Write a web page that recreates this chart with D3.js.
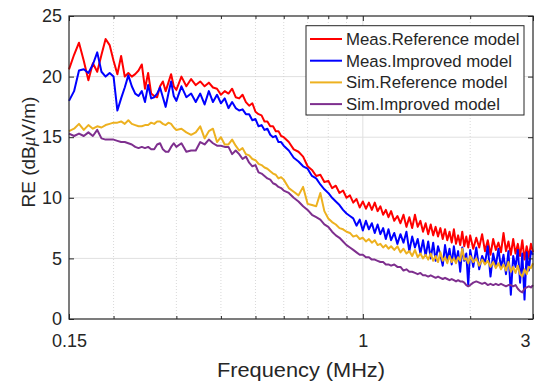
<!DOCTYPE html>
<html>
<head>
<meta charset="utf-8">
<script src="https://cdn.jsdelivr.net/npm/d3@7"></script>
<style>
body { margin: 0; background: #fff; }
text { font-family: "Liberation Sans", Arial, Helvetica, sans-serif; fill: #262626; }
</style>
</head>
<body>
<div id="chart-area"></div>
<script>
/*
*    RE vs frequency, measured and simulated
*/

// frequency points (MHz)
var freqs = [
    0.150, 0.155, 0.160, 0.165, 0.170, 0.175, 0.180, 0.185, 0.190, 0.195, 0.200,
    0.205, 0.210, 0.215, 0.220, 0.225, 0.230, 0.235, 0.240, 0.245, 0.250,
    0.255, 0.260, 0.265, 0.270, 0.275, 0.280, 0.285, 0.290, 0.295, 0.300,
    0.31, 0.32, 0.33, 0.34, 0.35, 0.36, 0.37, 0.38, 0.39, 0.40,
    0.41, 0.42, 0.43, 0.44, 0.45, 0.46, 0.47, 0.48, 0.49, 0.50,
    0.51, 0.52, 0.53, 0.54, 0.55, 0.56, 0.57, 0.58, 0.59, 0.60,
    0.62, 0.64, 0.66, 0.68, 0.70, 0.72, 0.74, 0.76, 0.78, 0.80,
    0.82, 0.84, 0.86, 0.88, 0.90, 0.92, 0.94, 0.96, 0.98, 1.00,
    1.02, 1.04, 1.06, 1.08, 1.10, 1.12, 1.14, 1.16, 1.18, 1.20,
    1.225, 1.25, 1.275, 1.3, 1.325, 1.35, 1.375, 1.4, 1.425, 1.45, 1.475, 1.5,
    1.525, 1.55, 1.575, 1.6, 1.625, 1.65, 1.675, 1.7, 1.725, 1.75, 1.775, 1.8,
    1.825, 1.85, 1.875, 1.9, 1.925, 1.95, 1.975, 2.0,
    2.04, 2.08, 2.12, 2.16, 2.2, 2.24, 2.28, 2.32, 2.36, 2.4, 2.44, 2.48,
    2.52, 2.56, 2.6, 2.64, 2.68, 2.72, 2.76, 2.8, 2.84, 2.88, 2.92, 2.96, 3.0
];

// Meas.Reference model (dBuV/m)
var measRef = [
    20.6, 21.8, 22.8, 21.3, 19.7, 21.1, 20.4, 21.8, 23.1, 22.6, 21.3,
    20.2, 21.7, 20.0, 20.3, 20.0, 20.2, 20.5, 21.0, 19.0, 20.3,
    18.6, 18.4, 18.3, 19.2, 19.6, 18.8, 19.5, 20.2, 19.2, 18.9,
    20.0, 19.2, 19.8, 19.3, 19.6, 19.2, 19.5, 19.1, 19.0, 18.5,
    18.8, 18.6, 19.0, 18.3, 18.2, 18.5, 17.9, 17.6, 17.8, 17.1,
    16.9, 16.8, 16.3, 16.3, 15.9, 15.9, 15.5, 15.5, 15.1, 15.0,
    14.6, 14.0, 13.8, 13.4, 12.6, 12.3, 11.8, 11.9, 11.3, 11.4,
    10.8, 11.0, 10.4, 10.6, 10.0, 10.2, 9.6, 9.9, 9.2, 9.7,
    9.1, 9.6, 9.0, 9.6, 8.9, 9.3, 8.6, 9.0, 8.4, 8.9,
    8.1, 8.5, 7.9, 8.6, 7.6, 8.4, 7.5, 8.6, 7.6, 8.1, 7.2, 7.9,
    7.0, 7.8, 6.9, 7.6, 6.8, 7.5, 6.6, 7.4, 6.5, 7.2, 6.3, 7.4,
    6.2, 6.9, 6.1, 7.2, 6.0, 6.8, 5.9, 6.9,
    5.8, 6.7, 5.9, 7.0, 5.6, 6.5, 5.3, 6.6, 5.7, 6.3, 5.5, 7.1,
    5.6, 6.4, 5.3, 6.6, 5.4, 6.2, 5.2, 6.5, 4.9, 6.0, 5.1, 6.2, 5.5
];

// Meas.Improved model
var measImp = [
    18.0, 18.8, 20.5, 20.6, 20.3, 21.0, 22.0, 20.4, 20.0, 20.3, 20.0,
    17.2, 18.2, 19.1, 20.1, 19.2, 18.6, 18.4, 18.8, 17.9, 19.3,
    18.2, 18.3, 18.6, 19.1, 18.3, 17.5, 18.6, 19.6, 18.4, 18.0,
    19.2, 18.3, 18.6, 17.9, 18.6, 17.7, 18.8, 17.9, 18.5, 17.8,
    18.2, 17.4, 17.9, 17.4, 17.2, 17.3, 16.9, 16.9, 16.4, 16.5,
    15.9, 16.0, 15.6, 15.7, 15.2, 15.0, 15.1, 14.6, 14.6, 14.3,
    13.9, 13.3, 13.0, 12.6, 12.4, 11.8, 11.6, 11.1, 10.7, 10.4,
    10.0, 9.7, 9.4, 9.0, 8.7, 8.5, 8.3, 7.7, 8.2, 7.3,
    8.1, 7.4, 7.9, 7.1, 7.8, 7.0, 7.5, 6.6, 7.4, 6.5,
    7.1, 6.2, 7.0, 6.3, 7.2, 5.6, 6.8, 5.9, 6.6, 5.4, 6.5, 5.2,
    6.4, 5.0, 6.3, 4.8, 6.0, 5.3, 4.4, 6.1, 4.9, 5.8, 4.5, 6.0,
    4.7, 5.6, 3.9, 5.9, 4.8, 5.4, 2.8, 5.7,
    4.3, 5.9, 4.1, 5.2, 4.6, 6.0, 3.5, 5.4, 4.4, 5.8, 4.2, 5.3,
    3.7, 5.6, 2.0, 5.2, 4.3, 5.7, 3.0, 5.4, 1.6, 5.5, 4.0, 5.6, 5.3
];

// Sim.Reference model
var simRef = [
    15.5, 15.7, 16.1, 15.6, 16.0, 15.7, 15.9, 15.8, 16.0, 16.1, 16.2,
    16.2, 16.3, 16.1, 16.4, 16.1, 16.0, 15.9, 15.9, 16.0, 16.0,
    16.2, 16.1, 16.3, 16.3, 16.1, 16.0, 16.2, 16.1, 15.8, 15.6,
    15.7, 15.4, 15.2, 15.4, 15.9, 14.9, 15.5, 15.7, 14.6, 15.0,
    14.4, 14.4, 14.8, 14.3, 13.9, 14.1, 13.6, 13.5, 13.2, 13.1,
    12.8, 12.7, 12.5, 12.4, 12.2, 12.0, 11.9, 11.6, 11.7, 11.5,
    10.8, 10.5, 10.2, 10.9, 9.5, 9.4, 9.3, 10.4, 8.9, 8.3,
    8.0, 7.8, 7.5, 7.4, 7.2, 7.1, 6.8, 6.9, 6.6, 6.7,
    6.4, 6.6, 6.3, 6.5, 6.1, 6.2, 5.9, 6.1, 5.8, 6.0,
    5.7, 6.0, 5.5, 5.8, 5.4, 5.6, 5.2, 5.7, 5.1, 5.4, 5.0, 5.3,
    4.9, 5.4, 4.8, 5.2, 4.7, 5.5, 4.8, 5.1, 4.6, 5.2, 4.7, 5.0,
    4.6, 5.1, 4.8, 5.8, 4.9, 5.0, 4.6, 5.2,
    4.7, 5.0, 4.4, 4.9, 4.5, 4.8, 4.3, 4.7, 4.2, 4.6, 4.1, 4.5,
    4.0, 4.7, 3.9, 4.3, 3.8, 4.4, 3.7, 3.5, 4.1, 3.7, 4.3, 4.2, 4.6
];

// Sim.Improved model
var simImp = [
    15.3, 15.1, 15.3, 15.1, 15.4, 15.1, 15.6, 14.9, 14.8, 14.8, 14.8,
    14.7, 14.6, 14.6, 14.5, 14.4, 14.2, 14.1, 14.2, 14.1, 14.2,
    14.0, 14.0, 14.4, 14.5, 14.0, 13.8, 13.8, 14.2, 14.5, 14.2,
    14.5, 13.8, 13.9, 13.9, 14.6, 14.4, 14.8, 14.5, 14.3, 14.3,
    14.2, 14.2, 13.6, 13.9, 13.6, 13.2, 13.4, 12.9, 12.6, 12.7,
    12.1, 12.0, 11.8, 11.6, 11.5, 11.2, 11.1, 10.9, 10.8, 10.6,
    10.4, 10.0, 9.7, 9.3, 9.0, 8.6, 8.4, 8.2, 7.8, 7.6,
    7.2, 6.9, 6.7, 6.4, 6.1, 5.9, 5.7, 5.5, 5.3, 5.3,
    5.1, 5.1, 4.9, 4.9, 4.8, 4.7, 4.7, 4.5, 4.5, 4.4,
    4.5, 4.3, 4.3, 4.0, 4.1, 3.9, 3.9, 3.8, 3.7, 3.8, 3.6, 3.6,
    3.5, 3.6, 3.5, 3.4, 3.5, 3.4, 3.3, 3.4, 3.3, 3.2, 3.3, 3.2,
    3.1, 3.2, 3.1, 3.1, 3.0, 2.8, 2.7, 2.8,
    3.0, 3.1, 3.0, 2.9, 3.0, 2.8, 2.9, 2.8, 2.9, 2.8, 2.9, 2.8,
    2.7, 2.8, 2.8, 2.7, 2.8, 2.5, 2.3, 2.2, 2.5, 2.6, 2.7, 2.6, 2.8
];

var seriesNames = ["Meas.Reference model", "Meas.Improved model", "Sim.Reference model", "Sim.Improved model"];
var seriesColors = ["#ff0000", "#0000ff", "#edb120", "#7e2f8e"];
var seriesValues = [measRef, measImp, simRef, simImp];

var xTicks = [0.15, 1, 3];
var xTickLabels = ["0.15", "1", "3"];
var xMinorTicks = [0.2, 0.3, 0.4, 0.5, 0.6, 0.7, 0.8, 0.9, 2];
var yTicks = [0, 5, 10, 15, 20, 25];

var margin = {top: 16, right: 3, bottom: 62, left: 69};
var width = 464;
var height = 303;
var axisColor = "#262626";

var svg = d3.select('#chart-area')
    .append('svg')
        .attr('width', width + margin.left + margin.right)
        .attr('height', height + margin.top + margin.bottom);

var g = svg.append("g")
    .attr("transform", "translate(" + margin.left + ", " + margin.top + ")");

var x = d3.scaleLog()
    .domain([0.15, 3])
    .range([0, width]);

var y = d3.scaleLinear()
    .domain([0, 25])
    .range([height, 0]);

// grid
g.selectAll(".ygrid").data(yTicks.slice(1, -1)).enter()
    .append("line")
    .attr("x1", 0).attr("x2", width)
    .attr("y1", (d) => y(d)).attr("y2", (d) => y(d))
    .attr("stroke", "#e0e0e0")
    .attr("stroke-width", 1);

g.selectAll(".xminor").data(xMinorTicks).enter()
    .append("line")
    .attr("x1", (d) => x(d)).attr("x2", (d) => x(d))
    .attr("y1", 0).attr("y2", height)
    .attr("stroke", "#cfcfcf")
    .attr("stroke-width", 0.8)
    .attr("stroke-dasharray", "1,2");

g.append("line")
    .attr("x1", x(1)).attr("x2", x(1))
    .attr("y1", 0).attr("y2", height)
    .attr("stroke", "#e0e0e0")
    .attr("stroke-width", 1);

// series
var line = d3.line()
    .x((d, i) => x(freqs[i]))
    .y((d) => y(d));

seriesValues.forEach((vals, k) => {
    g.append("path")
        .datum(vals)
        .attr("d", line)
        .attr("fill", "none")
        .attr("stroke", seriesColors[k])
        .attr("stroke-width", 2)
        .attr("stroke-linejoin", "round");
});

// axes
var bottomAxis = d3.axisBottom(x)
    .tickValues(xTicks)
    .tickFormat((d, i) => xTickLabels[i])
    .tickSizeInner(-5)
    .tickSizeOuter(0)
    .tickPadding(15);

var bottomG = g.append("g")
    .attr("class", "bottom axis")
    .attr("transform", "translate(0, " + height + ")")
    .call(bottomAxis);

// last label sits inside the plot edge, as in the original
bottomG.selectAll(".tick text")
    .filter((d) => d === 3)
    .attr("x", -8);

g.append("g")
    .attr("transform", "translate(0, " + height + ")")
    .call(d3.axisBottom(x).tickValues(xMinorTicks).tickFormat("").tickSizeInner(-3).tickSizeOuter(0));

g.append("g")
    .call(d3.axisTop(x).tickValues(xTicks).tickFormat("").tickSizeInner(-5).tickSizeOuter(0));

g.append("g")
    .call(d3.axisTop(x).tickValues(xMinorTicks).tickFormat("").tickSizeInner(-3).tickSizeOuter(0));

var leftAxis = d3.axisLeft(y)
    .tickValues(yTicks)
    .tickSizeInner(-5)
    .tickSizeOuter(0)
    .tickPadding(7);

g.append("g")
    .attr("class", "left axis")
    .call(leftAxis);

g.append("g")
    .attr("transform", "translate(" + width + ", 0)")
    .call(d3.axisRight(y).tickValues(yTicks).tickFormat("").tickSizeInner(-5).tickSizeOuter(0));

g.selectAll(".domain").remove();
g.selectAll(".tick line").attr("stroke", axisColor);
g.selectAll(".tick text")
    .attr("font-size", "18px")
    .attr("font-family", "Liberation Sans, Arial, sans-serif")
    .attr("fill", axisColor);

g.append("rect")
    .attr("width", width)
    .attr("height", height)
    .attr("fill", "none")
    .attr("stroke", axisColor)
    .attr("stroke-width", 1.2);

// labels
g.append("text")
    .attr("x", width / 2)
    .attr("y", height + 57.5)
    .attr("font-size", "20px")
    .attr("text-anchor", "middle")
    .attr("textLength", 168)
    .attr("lengthAdjust", "spacingAndGlyphs")
    .text("Frequency (MHz)");

var yLabel = g.append("text")
    .attr("x", -136)
    .attr("y", -34)
    .attr("font-size", "19px")
    .attr("text-anchor", "middle")
    .attr("transform", "rotate(-90)");
yLabel.append("tspan").text("RE (dB");
yLabel.append("tspan").attr("font-style", "italic").attr("font-family", "Liberation Serif, serif").text("μ");
yLabel.append("tspan").text("V/m)");

// legend
var legend = svg.append("g")
    .attr("transform", "translate(306, 25.7)");

legend.append("rect")
    .attr("width", 218)
    .attr("height", 89.3)
    .attr("fill", "#fff")
    .attr("stroke", axisColor)
    .attr("stroke-width", 1);

seriesNames.forEach((name, k) => {
    var row = legend.append("g")
        .attr("transform", "translate(0, " + (13.3 + k * 21.7) + ")");
    row.append("line")
        .attr("x1", 4).attr("x2", 36)
        .attr("stroke", seriesColors[k])
        .attr("stroke-width", 2);
    row.append("text")
        .attr("x", 40)
        .attr("dy", "0.36em")
        .attr("font-size", "16.8px")
        .text(name);
});
</script>
</body>
</html>
